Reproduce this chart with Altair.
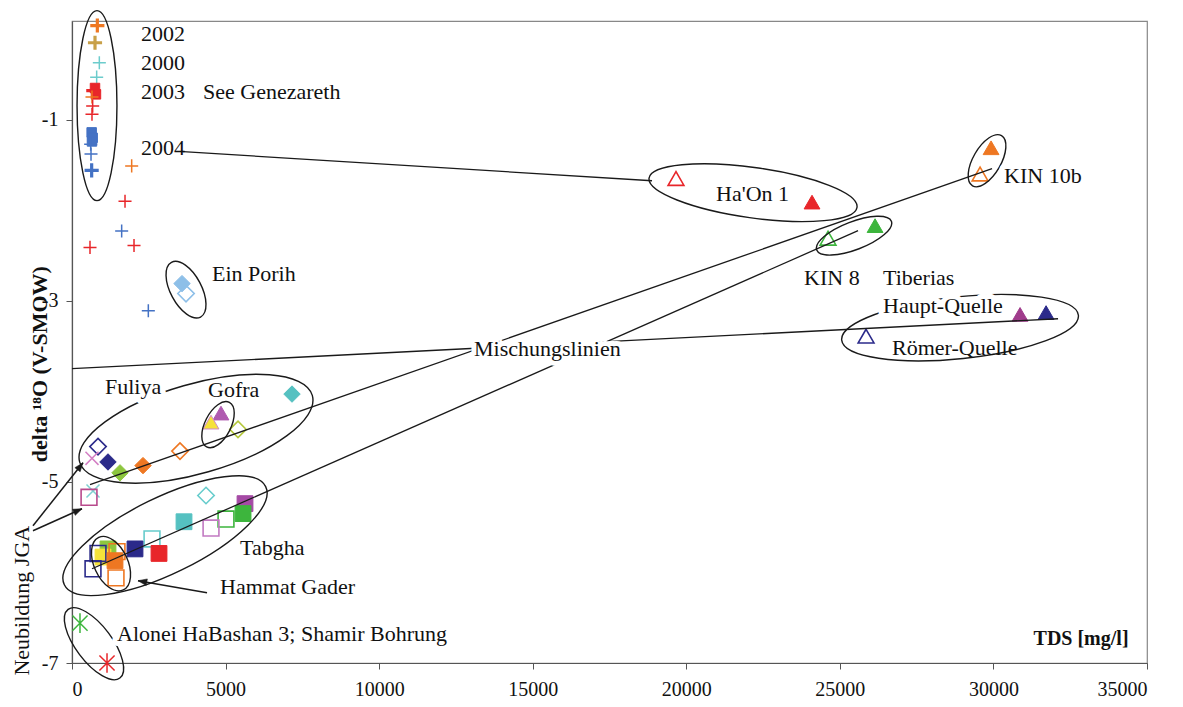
import altair as alt
import pandas as pd

# ---------------- data ----------------
# TDS [mg/l] and delta 18O (V-SMOW) of each marker
pt_tds = [825, 749, 890, 803, 694, 749, 780, 651, 673, 651,
          640, 673, 650, 608, 619, 640, 1943, 1726, 1617, 586, 2019, 2485,
          3582, 3712,
          19665, 24094, 24615, 26146, 29923, 29565, 30867, 31714, 25853,
          7163, 4851, 4526, 5405, 3516, 847, 1172, 651, 2312, 1563,
          684, 554, 4363, 5633, 5568, 5014, 4526, 3647, 2605, 2051, 2833,
          1172, 1009, 847, 1400, 1465, 684, 1433,
          260, 1140]
pt_d18o = [0.04, -0.15, -0.37, -0.53, -0.68, -0.65, -0.72, -0.75, -0.85, -0.94,
           -1.14, -1.20, -1.24, -1.27, -1.38, -1.56, -1.51, -1.90, -2.23, -2.41, -2.39, -3.11,
           -2.81, -2.92,
           -1.65, -1.91, -2.31, -2.17, -1.31, -1.60, -3.15, -3.13, -3.39,
           -4.03, -4.24, -4.34, -4.42, -4.66, -4.61, -4.78, -4.74, -4.82, -4.90,
           -5.10, -5.17, -5.15, -5.24, -5.35, -5.41, -5.51, -5.44, -5.63, -5.74, -5.79,
           -5.74, -5.83, -5.79, -5.87, -5.77, -5.96, -6.06,
           -6.56, -7.00]
pt_marker = ["plusb", "plusb", "plus", "plus", "plusb", "sqs", "sqs", "plus", "plus", "plus",
             "sqs", "sqs", "sqs", "plus", "plus", "plusb", "plus", "plus", "plus", "plus", "plus", "plus",
             "diamond", "diamond",
             "tri", "tri", "tri", "tri", "tri", "tri", "tri", "tri", "tri",
             "diamond", "tri", "tri", "diamond", "diamond", "diamond", "diamond", "x", "diamond", "diamond",
             "x", "square", "diamond", "square", "square", "square", "square", "square", "square", "square", "square",
             "square", "square", "square", "square", "square", "square", "square",
             "ast", "ast"]
pt_filled = [1, 1, 1, 1, 1, 1, 1, 1, 1, 1,
             1, 1, 1, 1, 1, 1, 1, 1, 1, 1, 1, 1,
             1, 0,
             0, 1, 0, 1, 1, 0, 1, 1, 0,
             1, 1, 1, 0, 0, 0, 1, 1, 1, 1,
             1, 0, 0, 1, 1, 0, 0, 1, 0, 1, 1,
             1, 1, 0, 1, 0, 0, 0,
             1, 1]
pt_color = ["#EE7722", "#C8A048", "#6CCCCC", "#6CCCCC", "#E8262A", "#E8262A", "#E8262A", "#EE7722", "#E8262A", "#E8262A",
            "#4472C4", "#4472C4", "#4472C4", "#4472C4", "#4472C4", "#4472C4", "#EE7722", "#E8262A", "#4472C4", "#E8262A", "#E8262A", "#4472C4",
            "#8DBFE8", "#8DBFE8",
            "#E8262A", "#E8262A", "#3DB53D", "#3DB53D", "#EE7722", "#EE7722", "#A03C8C", "#2B2A8A", "#2B2A8A",
            "#55C1C1", "#B05AB0", "#F5E23A", "#B5C83C", "#EE7722", "#2B2A8A", "#2B2A8A", "#D47FC4", "#EE7722", "#8DC63F",
            "#7FD0D0", "#B84A8C", "#66CCCC", "#A54AA5", "#3DB53D", "#3DB53D", "#C27AC2", "#55C1C1", "#66CCCC", "#2B2A8A", "#E8262A",
            "#8DC63F", "#F5E23A", "#2B2A8A", "#EE7722", "#EE7722", "#2B2A8A", "#EE7722",
            "#3DB53D", "#E8262A"]

# annotation texts
lab_text = ["2002", "2000", "2003", "See Genezareth", "2004", "Ein Porih", "Ha'On 1", "KIN 10b",
            "KIN 8", "Tiberias", "Haupt-Quelle", "Römer-Quelle", "Mischungslinien", "Fuliya", "Gofra",
            "Tabgha", "Hammat Gader", "Alonei HaBashan 3; Shamir Bohrung"]
lab_x = [2247, 2247, 2247, 4265, 2247, 4558, 20969, 30346, 23834, 26407, 26407, 26700, 13089, 1074, 4428,
         5470, 4819, 1465]
lab_y = [-0.05, -0.37, -0.69, -0.69, -1.31, -2.70, -1.82, -1.62, -2.745, -2.745, -3.054, -3.518, -3.53,
         -3.949, -3.982, -5.727, -6.157, -6.676]
lab_halo = [0, 0, 0, 0, 0, 0, 0, 1, 0, 0, 1, 0, 1, 1, 0, 1, 0, 1]

# connector / mixing lines (TDS, delta 18O of both ends)
seg_x1 = [3614, 586, 651, 0]
seg_y1 = [-1.353, -5.031, -5.959, -3.750]
seg_x2 = [18885, 29955, 25593, 32104]
seg_y2 = [-1.674, -1.541, -2.226, -3.198]

# arrows
arr_x1 = [-1270, -1270, 4396]
arr_y1 = [-5.484, -5.539, -6.224]
arr_x2 = [358, 326, 2149]
arr_y2 = [-4.788, -5.296, -6.091]
arr_angle = [38, 66, 280]

# ellipses around groups (centre in data units, semi-axis in px)
ell_x = [814, 3712, 22173, 25462, 29792, 28913, 4037, 4754, 3028, 1270, 716]
ell_y = [-0.845, -2.877, -1.806, -2.281, -1.453, -3.297, -4.413, -4.368, -5.594, -5.903, -6.787]
ell_semi = [95, 31, 105, 40, 29, 119, 121, 25, 112, 29, 43]
ell_ratio = [0.21, 0.5, 0.24, 0.35, 0.48, 0.26, 0.37, 0.52, 0.34, 0.58, 0.42]
ell_angle = [90, 62, 8, 339, 300, 354, 344, 297, 334, 65, 53]

# ---------------- styling ----------------
FONT = "Liberation Serif"
SHAPES = {
    "plus": "M-1,0L1,0M0,-1L0,1",
    "plusb": "M-1,0L1,0M0,-1L0,1",
    "x": "M-1,-1L1,1M-1,1L1,-1",
    "ast": "M-1,-1L1,1M-1,1L1,-1M0,-1.3L0,1.3",
    "square": "square",
    "sqs": "square",
    "diamond": "diamond",
    "tri": "triangle-up",
}
SIZES = {"plus": 170, "plusb": 200, "x": 170, "ast": 230, "square": 250, "sqs": 90,
         "diamond": 270, "tri": 250}

rows = []
for i in range(len(pt_tds)):
    m = pt_marker[i]
    line_like = m in ("plus", "plusb", "x", "ast")
    fill = pt_color[i] if (pt_filled[i] and not line_like) else "transparent"
    stroke = pt_color[i]
    if pt_color[i] == "#F5E23A" and m == "tri":
        stroke = "#D08AC8"
    sw = 3.2 if m == "plusb" else (1.5 if line_like else (1.0 if pt_filled[i] else 1.6))
    rows.append({"x": pt_tds[i], "y": pt_d18o[i], "shape": SHAPES[m], "fill": fill,
                 "stroke": stroke, "size": SIZES[m], "sw": sw})
pts = pd.DataFrame(rows)

labels = pd.DataFrame({"x": lab_x, "y": lab_y, "text": lab_text, "halo": lab_halo})
segs = pd.DataFrame({"x": seg_x1, "y": seg_y1, "x2": seg_x2, "y2": seg_y2})
arrs = pd.DataFrame({"x": arr_x1, "y": arr_y1, "x2": arr_x2, "y2": arr_y2})
heads = pd.DataFrame({"x": arr_x2, "y": arr_y2, "angle": arr_angle})
ells = pd.DataFrame({
    "x": ell_x, "y": ell_y,
    "shape": [f"M-1,0A1,{r},0,1,1,1,0A1,{r},0,1,1,-1,0Z" for r in ell_ratio],
    "size": [(2 * s) ** 2 for s in ell_semi],
    "angle": ell_angle,
})

xscale = alt.Scale(domain=[0, 35000], nice=False, zero=False)
yscale = alt.Scale(domain=[-7, 0.09], nice=False, zero=False)
X = alt.X("x:Q", scale=xscale,
          axis=alt.Axis(values=list(range(0, 35001, 5000)), format="d", title=None,
                        tickSize=6, labelPadding=10, labelFont=FONT, labelFontSize=20,
                        labelColor="#111"))
Y = alt.Y("y:Q", scale=yscale,
          axis=alt.Axis(values=[-7, -5, -3, -1], labelExpr="'' + datum.value", title=None,
                        tickSize=6, labelPadding=8, labelFont=FONT, labelFontSize=20,
                        labelColor="#111"))

points = alt.Chart(pts).mark_point(filled=True, opacity=1).encode(
    x=X, y=Y,
    shape=alt.Shape("shape:N", scale=None),
    fill=alt.Fill("fill:N", scale=None),
    stroke=alt.Stroke("stroke:N", scale=None),
    size=alt.Size("size:Q", scale=None),
    strokeWidth=alt.StrokeWidth("sw:Q", scale=None),
)

lines = alt.Chart(segs).mark_rule(color="#1a1a1a", strokeWidth=1.3).encode(
    x=X, y=Y, x2="x2:Q", y2="y2:Q")

ellipses = alt.Chart(ells).mark_point(filled=False, stroke="#1a1a1a", strokeWidth=1.4,
                                      opacity=1).encode(
    x=X, y=Y,
    shape=alt.Shape("shape:N", scale=None),
    size=alt.Size("size:Q", scale=None),
    angle=alt.Angle("angle:Q", scale=None),
)

arrows = alt.Chart(arrs).mark_rule(color="#1a1a1a", strokeWidth=1.5).encode(
    x=X, y=Y, x2="x2:Q", y2="y2:Q")
arrowheads = alt.Chart(heads).mark_point(filled=True, fill="#1a1a1a", stroke="#1a1a1a",
                                         strokeWidth=0.5, opacity=1, size=220,
                                         shape="M0,0L-0.45,1.2L0.45,1.2Z").encode(
    x=X, y=Y, angle=alt.Angle("angle:Q", scale=None))

halo = alt.Chart(labels).transform_filter("datum.halo == 1").mark_text(
    align="left", baseline="middle", font=FONT, fontSize=22, stroke="white",
    strokeWidth=10, strokeJoin="round", fill="white").encode(x=X, y=Y, text="text:N")
texts = alt.Chart(labels).mark_text(
    align="left", baseline="middle", font=FONT, fontSize=22, color="#111").encode(
    x=X, y=Y, text="text:N")

side_text = pd.DataFrame({"x": [-1628], "y": [-6.312], "text": ["Neubildung JGA"]})
side = alt.Chart(side_text).mark_text(angle=270, align="center", baseline="middle", font=FONT,
                                      fontSize=22, color="#111").encode(x=X, y=Y, text="text:N")

titles_y = pd.DataFrame({"x": [-1042], "y": [-3.70], "text": ["delta \u00b9\u2078O (V-SMOW)"]})
ytitle = alt.Chart(titles_y).mark_text(angle=270, align="center", baseline="middle", font=FONT,
                                       fontSize=22, fontWeight="bold", color="#111").encode(
    x=X, y=Y, text="text:N")
titles_x = pd.DataFrame({"x": [32853], "y": [-6.735], "text": ["TDS [mg/l]"]})
xtitle = alt.Chart(titles_x).mark_text(align="center", baseline="middle", font=FONT,
                                       fontSize=20, fontWeight="bold", color="#111").encode(
    x=X, y=Y, text="text:N")

chart = alt.layer(points, lines, ellipses, arrows, arrowheads, halo, texts, side, ytitle,
                  xtitle).properties(
    width=1075, height=642,
    autosize=alt.AutoSizeParams(type="none"),
    padding={"left": 64, "top": 13, "right": 28, "bottom": 40},
).configure_view(stroke="#888", strokeWidth=1.2).configure_axis(
    domainColor="#555", tickColor="#555", labelColor="#111", labelFont=FONT,
    labelFontSize=20, grid=False, domainWidth=1.2,
)

chart.save("out.html", embed_options={"renderer": "svg", "actions": False})
